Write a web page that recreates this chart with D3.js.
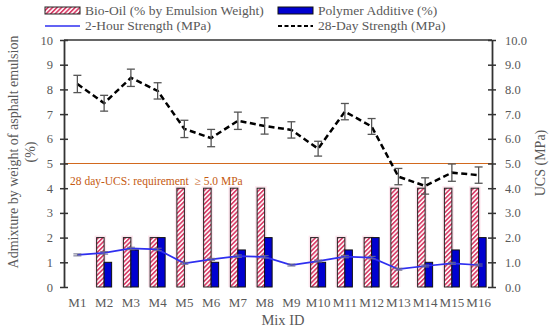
<!DOCTYPE html>
<html>
<head>
<meta charset="utf-8">
<script src="https://cdn.jsdelivr.net/npm/d3@7"></script>
<style>
  body { margin: 0; background: #fff; }
  svg text { font-family: "Liberation Serif", "DejaVu Serif", serif !important; fill: #595959; }
</style>
</head>
<body>
<svg id="chart" width="550" height="330"></svg>
<script>
const mixes = ["M1","M2","M3","M4","M5","M6","M7","M8","M9","M10","M11","M12","M13","M14","M15","M16"];
const bioOil = [0, 2, 2, 2, 4, 4, 4, 4, 0, 2, 2, 2, 4, 4, 4, 4];
const polymer = [0, 1, 1.5, 2, 0, 1, 1.5, 2, 0, 1, 1.5, 2, 0, 1, 1.5, 2];
const strength2h = [1.3, 1.38, 1.56, 1.52, 0.96, 1.12, 1.25, 1.22, 0.89, 1.05, 1.23, 1.19, 0.72, 0.85, 0.96, 0.89];
const err2h = [0.04, 0.05, 0.05, 0.05, 0.04, 0.04, 0.05, 0.05, 0.04, 0.04, 0.05, 0.05, 0.04, 0.04, 0.04, 0.04];
const strength28d = [8.22, 7.44, 8.47, 7.94, 6.4, 6.03, 6.73, 6.52, 6.36, 5.6, 7.1, 6.5, 4.47, 4.09, 4.63, 4.53];
const err28d = [0.35, 0.32, 0.35, 0.33, 0.35, 0.35, 0.35, 0.33, 0.33, 0.3, 0.33, 0.32, 0.33, 0.33, 0.35, 0.33];
const yTicks = [0,1,2,3,4,5,6,7,8,9,10];
const requirement = 5.0;

const FONT = "'Liberation Serif', 'DejaVu Serif', serif";
const svg = d3.select("#chart").attr("font-family", FONT);
const margin = { top: 40, right: 58, bottom: 43, left: 64 };
const W = 550, H = 330;

const x = d3.scaleBand().domain(mixes).range([margin.left, W - margin.right]).padding(0);
const y = d3.scaleLinear().domain([0, 10]).range([H - margin.bottom, margin.top]);
const barW = 7.5;

// hatch pattern for bio-oil
const defs = svg.append("defs");
const pat = defs.append("pattern")
  .attr("id", "hatch")
  .attr("patternUnits", "userSpaceOnUse")
  .attr("width", 3.2).attr("height", 3.2)
  .attr("patternTransform", "rotate(45)");
pat.append("rect").attr("width", 3.2).attr("height", 3.2).attr("fill", "#fff");
pat.append("rect").attr("width", 1.7).attr("height", 3.2).attr("fill", "#d9416b");

// top border
svg.append("line")
  .attr("x1", x.range()[0]).attr("x2", x.range()[1])
  .attr("y1", y(10)).attr("y2", y(10))
  .attr("stroke", "#333").attr("stroke-width", 1.5);

// requirement line
svg.append("line")
  .attr("x1", x.range()[0]).attr("x2", x.range()[1])
  .attr("y1", y(requirement)).attr("y2", y(requirement))
  .attr("stroke", "#d2691e").attr("stroke-width", 1.1);
svg.append("text")
  .attr("x", 70).attr("y", y(requirement) + 21)
  .style("fill", "#c55a11").style("font-size", "11.5px")
  .style("white-space", "pre")
  .text("28 day-UCS: requirement  \u2265 5.0 MPa");

// bars
const g = svg.append("g");
mixes.forEach((m, i) => {
  const cx = x(m) + x.bandwidth() / 2;
  if (bioOil[i] > 0) {
    g.append("rect")
      .attr("x", cx - barW - 2).attr("y", y(bioOil[i]) - 2)
      .attr("width", barW + 4).attr("height", y(0) - y(bioOil[i]) + 2)
      .attr("fill", "#fde6ee");
    g.append("rect")
      .attr("x", cx - barW).attr("y", y(bioOil[i]))
      .attr("width", barW).attr("height", y(0) - y(bioOil[i]))
      .attr("fill", "url(#hatch)").attr("stroke", "#222").attr("stroke-width", 1);
  }
  if (polymer[i] > 0) {
    g.append("rect")
      .attr("x", cx).attr("y", y(polymer[i]))
      .attr("width", barW).attr("height", y(0) - y(polymer[i]))
      .attr("fill", "#0000d0").attr("stroke", "#111").attr("stroke-width", 1);
  }
});

// 2-hour line
const lineGen = d3.line()
  .x((d, i) => x(mixes[i]) + x.bandwidth() / 2)
  .y(d => y(d));
svg.append("path").datum(strength2h)
  .attr("d", lineGen).attr("fill", "none")
  .attr("stroke", "#2f2ff0").attr("stroke-width", 1.7);
strength2h.forEach((v, i) => {
  const cx = x(mixes[i]) + x.bandwidth() / 2;
  const e = svg.append("g").attr("stroke", "#6a6a8a").attr("stroke-width", 1);
  e.append("line").attr("x1", cx).attr("x2", cx).attr("y1", y(v - err2h[i])).attr("y2", y(v + err2h[i]));
  e.append("line").attr("x1", cx - 4).attr("x2", cx + 4).attr("y1", y(v - err2h[i])).attr("y2", y(v - err2h[i]));
  e.append("line").attr("x1", cx - 4).attr("x2", cx + 4).attr("y1", y(v + err2h[i])).attr("y2", y(v + err2h[i]));
});

// 28-day line
svg.append("path").datum(strength28d)
  .attr("d", lineGen).attr("fill", "none")
  .attr("stroke", "#000").attr("stroke-width", 2.5)
  .attr("stroke-dasharray", "6,3.5");
strength28d.forEach((v, i) => {
  const cx = x(mixes[i]) + x.bandwidth() / 2;
  const e = svg.append("g").attr("stroke", "#555").attr("stroke-width", 1.3);
  e.append("line").attr("x1", cx).attr("x2", cx).attr("y1", y(v - err28d[i])).attr("y2", y(v + err28d[i]));
  e.append("line").attr("x1", cx - 4).attr("x2", cx + 4).attr("y1", y(v - err28d[i])).attr("y2", y(v - err28d[i]));
  e.append("line").attr("x1", cx - 4).attr("x2", cx + 4).attr("y1", y(v + err28d[i])).attr("y2", y(v + err28d[i]));
});

// axes
const leftAxis = svg.append("g")
  .attr("transform", `translate(${margin.left},0)`)
  .call(d3.axisLeft(y).tickValues(yTicks).tickFormat(d3.format("d")).tickSizeInner(4).tickSizeOuter(0).tickPadding(7));
leftAxis.selectAll(".tick line").attr("x2", 4).attr("x1", -4);
const rightAxis = svg.append("g")
  .attr("transform", `translate(${W - margin.right},0)`)
  .call(d3.axisRight(y).tickValues(yTicks).tickFormat(d3.format(".1f")).tickSizeInner(4).tickSizeOuter(0).tickPadding(9));
rightAxis.selectAll(".tick line").attr("x1", -4).attr("x2", 4);
[leftAxis, rightAxis].forEach(a => {
  a.attr("font-family", FONT);
  a.select(".domain").attr("stroke", "#333").attr("stroke-width", 1.8);
  a.selectAll(".tick line").attr("stroke", "#333").attr("stroke-width", 1.5);
  a.selectAll(".tick text").style("font-size", "12.5px").style("fill", "#595959");
});

const xAxis = svg.append("g")
  .attr("transform", `translate(0,${y(0)})`)
  .call(d3.axisBottom(x).tickSize(0).tickPadding(11));
xAxis.attr("font-family", FONT);
xAxis.select(".domain").remove();
xAxis.selectAll(".tick text").style("font-size", "13px").style("fill", "#595959");

// axis titles
svg.append("text")
  .attr("x", (margin.left + W - margin.right) / 2 + 5).attr("y", 325)
  .attr("text-anchor", "middle").style("font-size", "14.5px")
  .text("Mix ID");
svg.append("text")
  .attr("transform", "translate(18,152) rotate(-90)")
  .attr("text-anchor", "middle").style("font-size", "14px")
  .text("Admixture by weight of asphalt emulsion");
svg.append("text")
  .attr("transform", "translate(35,152) rotate(-90)")
  .attr("text-anchor", "middle").style("font-size", "14px")
  .text("(%)");
svg.append("text")
  .attr("transform", "translate(545,163) rotate(-90)")
  .attr("text-anchor", "middle").style("font-size", "14px")
  .text("UCS (MPa)");

// legend
const leg = svg.append("g");
leg.append("rect").attr("x", 45).attr("y", 7).attr("width", 35).attr("height", 7)
  .attr("fill", "url(#hatch)").attr("stroke", "#222").attr("stroke-width", 1);
leg.append("text").attr("x", 85).attr("y", 15).style("font-size", "13.5px").text("Bio-Oil (% by Emulsion Weight)");
leg.append("rect").attr("x", 278).attr("y", 7).attr("width", 35).attr("height", 7)
  .attr("fill", "#0000d0").attr("stroke", "#111").attr("stroke-width", 1);
leg.append("text").attr("x", 318).attr("y", 15).style("font-size", "13.5px").text("Polymer Additive (%)");
leg.append("line").attr("x1", 45).attr("x2", 80).attr("y1", 26).attr("y2", 26)
  .attr("stroke", "#2f2ff0").attr("stroke-width", 1.7);
leg.append("text").attr("x", 85).attr("y", 30).style("font-size", "13.5px").text("2-Hour Strength (MPa)");
leg.append("line").attr("x1", 278).attr("x2", 313).attr("y1", 26).attr("y2", 26)
  .attr("stroke", "#000").attr("stroke-width", 2).attr("stroke-dasharray", "4,2.5");
leg.append("text").attr("x", 318).attr("y", 30).style("font-size", "13.5px").text("28-Day Strength (MPa)");
</script>
</body>
</html>
